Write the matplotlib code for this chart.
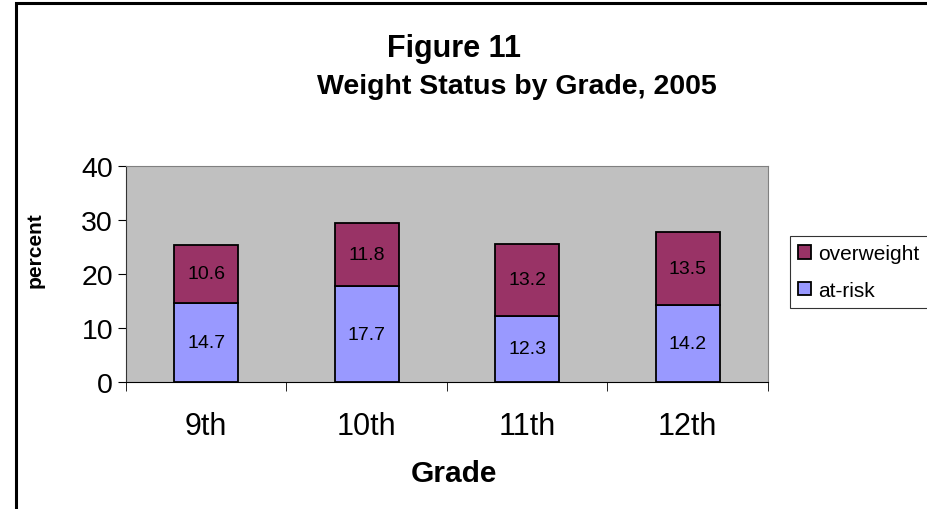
import matplotlib.pyplot as plt
from matplotlib.patches import Rectangle
import numpy as np

grades = ["9th", "10th", "11th", "12th"]
at_risk = [14.7, 17.7, 12.3, 14.2]
overweight = [10.6, 11.8, 13.2, 13.5]

plt.rcParams['font.family'] = ['Liberation Sans', 'DejaVu Sans']

fig = plt.figure(figsize=(9.28, 5.10), dpi=100)
ax = fig.add_axes([126/928, 1-383/510, 642/928, 216/510])
ax.set_facecolor("#C0C0C0")

x = np.arange(len(grades))
ax.bar(x, at_risk, width=0.4, color="#9999FF", edgecolor="black", linewidth=1.3, label="at-risk", zorder=3)
ax.bar(x, overweight, width=0.4, bottom=at_risk, color="#993366", edgecolor="black", linewidth=1.3,
       label="overweight", zorder=3)

# value labels in the middle of each segment
for i in range(len(grades)):
    ax.text(x[i], at_risk[i]/2, str(at_risk[i]), ha="center", va="center", fontsize=14, zorder=4)
    ax.text(x[i], at_risk[i] + overweight[i]/2, str(overweight[i]), ha="center", va="center",
            fontsize=14, zorder=4)

ax.set_xlim(-0.5, 3.5)
ax.set_ylim(0, 40)
ax.set_yticks([0, 10, 20, 30, 40])
ax.set_xticks(x)
ax.set_xticklabels(grades)
ax.set_xticks([-0.5, 0.5, 1.5, 2.5, 3.5], minor=True)
ax.tick_params(axis="x", which="major", length=0, pad=21, labelsize=22)
ax.tick_params(axis="x", which="minor", length=6.5, direction="out", color="black")
ax.tick_params(axis="y", length=5.8, direction="out", labelsize=20.5, pad=3.5)

for s in ["top", "right"]:
    ax.spines[s].set_color("#808080")
ax.spines["left"].set_color("#333333")
ax.spines["bottom"].set_color("black")

fig.text(454/928, 1-482/510, "Grade", ha="center", va="baseline", fontsize=21.5, fontweight="bold")
fig.text(35/928, 1-250/510, "percent", rotation=90, ha="center", va="center", fontsize=15, fontweight="bold")

fig.text(454/928, 1-57/510, "Figure 11", ha="center", va="baseline", fontsize=22, fontweight="bold")
fig.text(517/928, 1-94/510, "Weight Status by Grade, 2005", ha="center", va="baseline", fontsize=20.5,
         fontweight="bold")

handles, labels = ax.get_legend_handles_labels()
leg = fig.legend(handles[::-1], labels[::-1], loc="upper left", bbox_to_anchor=(790/928, 1-237/510),
                 fontsize=15, frameon=True, fancybox=False, edgecolor="black", handlelength=0.6,
                 handleheight=0.6, handletextpad=0.35, borderpad=0.4, labelspacing=0.85, borderaxespad=0)
leg.get_frame().set_linewidth(0.8)

# outer chart border
fig.patches.append(Rectangle((16/928, -0.1), 1.2, 1 - 4/510 + 0.1, transform=fig.transFigure,
                             fill=False, edgecolor="black", linewidth=2.2))

fig.savefig("out.png", dpi=100)
